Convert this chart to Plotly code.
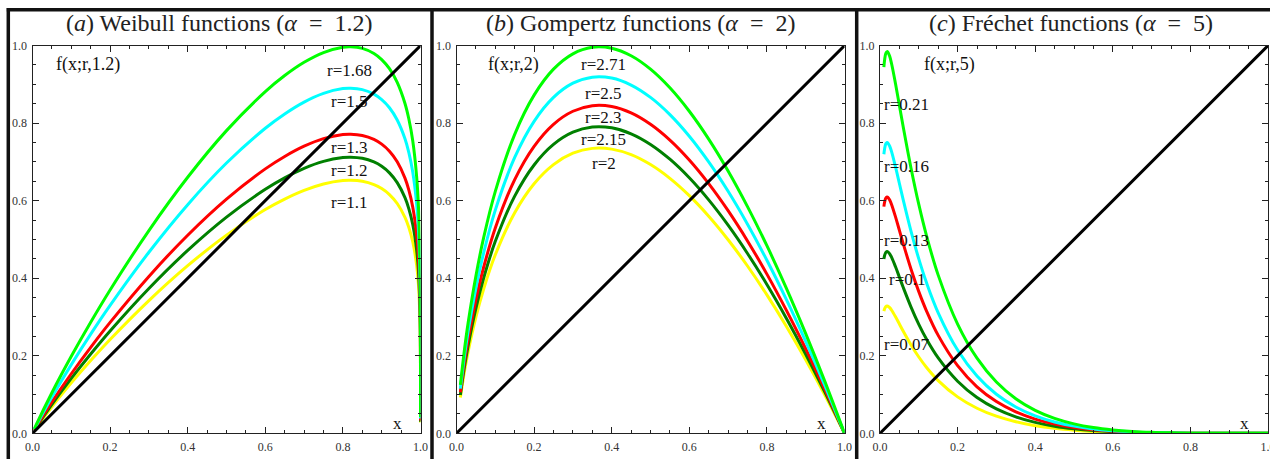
import plotly.graph_objects as go

# ---------------- data ----------------
# Panel (a): Weibull functions, alpha = 1.2
xa = [0.005, 0.01, 0.05, 0.1, 0.15, 0.2, 0.3, 0.4, 0.5, 0.6, 0.65, 0.7, 0.75, 0.8, 0.82,
      0.85, 0.88, 0.9, 0.92, 0.94, 0.96, 0.97, 0.98, 0.99, 0.995, 0.999, 0.9999, 0.99999, 1.0]
ya_r110 = [0.0077, 0.0149, 0.0685, 0.1300, 0.1876, 0.2420, 0.3424, 0.4324, 0.5112, 0.5771, 0.6041,
           0.6266, 0.6431, 0.6520, 0.6527, 0.6501, 0.6415, 0.6312, 0.6158, 0.5927, 0.5570, 0.5308,
           0.4940, 0.4340, 0.3795, 0.2761, 0.1744, 0.1100, 0.028]
ya_r120 = [0.0084, 0.0163, 0.0747, 0.1418, 0.2046, 0.2640, 0.3736, 0.4717, 0.5576, 0.6295, 0.6590,
           0.6835, 0.7015, 0.7112, 0.7121, 0.7092, 0.6998, 0.6886, 0.6718, 0.6466, 0.6077, 0.5790,
           0.5389, 0.4734, 0.4140, 0.3012, 0.1902, 0.1200, 0.030]
ya_r130 = [0.0091, 0.0176, 0.0809, 0.1536, 0.2217, 0.2860, 0.4047, 0.5110, 0.6041, 0.6820, 0.7140,
           0.7405, 0.7600, 0.7705, 0.7714, 0.7683, 0.7582, 0.7459, 0.7277, 0.7004, 0.6583, 0.6273,
           0.5838, 0.5129, 0.4485, 0.3263, 0.2061, 0.1300, 0.033]
ya_r150 = [0.0105, 0.0204, 0.0934, 0.1772, 0.2558, 0.3300, 0.4670, 0.5897, 0.6971, 0.7869, 0.8238,
           0.8544, 0.8769, 0.8891, 0.8901, 0.8865, 0.8748, 0.8607, 0.8397, 0.8082, 0.7596, 0.7238,
           0.6737, 0.5918, 0.5175, 0.3765, 0.2378, 0.1500, 0.038]
ya_r168 = [0.0117, 0.0228, 0.1046, 0.1985, 0.2864, 0.3696, 0.5230, 0.6604, 0.7807, 0.8813, 0.9227,
           0.9569, 0.9821, 0.9957, 0.9969, 0.9929, 0.9798, 0.9640, 0.9405, 0.9052, 0.8508, 0.8106,
           0.7545, 0.6628, 0.5796, 0.4217, 0.2663, 0.1680, 0.042]
labels_a = ["r=1.1", "r=1.2", "r=1.3", "r=1.5", "r=1.68"]
label_y_a = [0.595, 0.677, 0.736, 0.855, 0.937]

# Panel (b): Gompertz functions, alpha = 2
xb = [0.01, 0.02, 0.03, 0.05, 0.07, 0.1, 0.15, 0.2, 0.25, 0.3, 0.35, 0.4, 0.45, 0.5, 0.55,
      0.6, 0.65, 0.7, 0.75, 0.8, 0.85, 0.9, 0.95, 1.0]
yb_r200 = [0.0921, 0.1565, 0.2104, 0.2996, 0.3723, 0.4605, 0.5691, 0.6438, 0.6931, 0.7224, 0.7349,
           0.7330, 0.7187, 0.6931, 0.6576, 0.6130, 0.5600, 0.4993, 0.4315, 0.3570, 0.2763, 0.1896,
           0.0975, 0.0]
yb_r215 = [0.0990, 0.1682, 0.2262, 0.3220, 0.4003, 0.4951, 0.6118, 0.6921, 0.7451, 0.7766, 0.7900,
           0.7880, 0.7726, 0.7451, 0.7069, 0.6590, 0.6020, 0.5368, 0.4639, 0.3838, 0.2970, 0.2039,
           0.1048, 0.0]
yb_r230 = [0.1059, 0.1800, 0.2420, 0.3445, 0.4283, 0.5296, 0.6545, 0.7403, 0.7971, 0.8307, 0.8451,
           0.8430, 0.8265, 0.7971, 0.7563, 0.7050, 0.6440, 0.5742, 0.4962, 0.4106, 0.3177, 0.2181,
           0.1121, 0.0]
yb_r250 = [0.1151, 0.1956, 0.2630, 0.3745, 0.4655, 0.5757, 0.7114, 0.8047, 0.8664, 0.9030, 0.9186,
           0.9163, 0.8983, 0.8664, 0.8220, 0.7663, 0.7000, 0.6242, 0.5394, 0.4463, 0.3454, 0.2371,
           0.1218, 0.0]
yb_r271 = [0.1248, 0.2120, 0.2851, 0.4059, 0.5046, 0.6240, 0.7712, 0.8723, 0.9392, 0.9788, 0.9958,
           0.9933, 0.9738, 0.9392, 0.8911, 0.8306, 0.7588, 0.6766, 0.5847, 0.4838, 0.3744, 0.2570,
           0.1321, 0.0]
labels_b = ["r=2", "r=2.15", "r=2.3", "r=2.5", "r=2.71"]
label_y_b = [0.696, 0.758, 0.815, 0.877, 0.950]

# Panel (c): Frechet functions, alpha = 5
xc = [0.01, 0.012, 0.015, 0.0183, 0.02, 0.025, 0.03, 0.04, 0.05, 0.06, 0.08, 0.1, 0.12, 0.15,
      0.2, 0.25, 0.3, 0.35, 0.4, 0.45, 0.5, 0.55, 0.6, 0.65, 0.7, 0.75, 0.8, 0.9, 1.0]
yc_r007 = [0.3149, 0.3214, 0.3266, 0.3282, 0.3279, 0.3241, 0.3175, 0.3006, 0.2819, 0.2631, 0.2279,
           0.1968, 0.1698, 0.1360, 0.0939, 0.0646, 0.0441, 0.0298, 0.0197, 0.0128, 0.0081, 0.0049,
           0.0029, 0.0016, 0.0008, 0.0004, 0.0001, 0.0, 0.0]
yc_r010 = [0.4498, 0.4591, 0.4666, 0.4688, 0.4684, 0.4630, 0.4536, 0.4294, 0.4027, 0.3759, 0.3256,
           0.2811, 0.2425, 0.1943, 0.1342, 0.0923, 0.0630, 0.0425, 0.0282, 0.0183, 0.0116, 0.0070,
           0.0041, 0.0022, 0.0011, 0.0005, 0.0002, 0.0, 0.0]
yc_r013 = [0.5847, 0.5968, 0.6066, 0.6094, 0.6089, 0.6019, 0.5897, 0.5582, 0.5235, 0.4887, 0.4233,
           0.3654, 0.3153, 0.2526, 0.1745, 0.1200, 0.0819, 0.0553, 0.0367, 0.0238, 0.0150, 0.0091,
           0.0053, 0.0029, 0.0015, 0.0007, 0.0003, 0.0, 0.0]
yc_r016 = [0.7197, 0.7346, 0.7466, 0.7501, 0.7494, 0.7408, 0.7258, 0.6870, 0.6443, 0.6014, 0.5210,
           0.4498, 0.3880, 0.3109, 0.2147, 0.1477, 0.1008, 0.0680, 0.0451, 0.0293, 0.0185, 0.0112,
           0.0065, 0.0036, 0.0018, 0.0008, 0.0003, 0.0, 0.0]
yc_r021 = [0.9446, 0.9641, 0.9799, 0.9845, 0.9836, 0.9723, 0.9526, 0.9017, 0.8457, 0.7894, 0.6838,
           0.5903, 0.5093, 0.4080, 0.2818, 0.1938, 0.1323, 0.0893, 0.0592, 0.0384, 0.0243, 0.0147,
           0.0086, 0.0047, 0.0024, 0.0011, 0.0004, 0.0, 0.0]
labels_c = ["r=0.07", "r=0.1", "r=0.13", "r=0.16", "r=0.21"]
label_y_c = [0.230, 0.397, 0.498, 0.688, 0.847]
label_x_c = [0.004, 0.017, 0.004, 0.004, 0.004]

diag = [0.0, 1.0]

titles = ["(<i>a</i>) Weibull functions (<i>α</i>\u2002=\u20021.2)",
          "(<i>b</i>) Gompertz functions (<i>α</i>\u2002=\u20022)",
          "(<i>c</i>) Fréchet functions (<i>α</i>\u2002=\u20025)"]
flabels = ["f(x;r,1.2)", "f(x;r,2)", "f(x;r,5)"]
tickvals = [0.0, 0.2, 0.4, 0.6, 0.8, 1.0]
ticktext = ["0.0", "0.2", "0.4", "0.6", "0.8", "1.0"]

colors = ["#ffff00", "#008000", "#ff0000", "#00ffff", "#00ff00"]

# ---------------- figure ----------------
W, H = 1270, 459
fig = go.Figure()

panels = [
    (xa, [ya_r110, ya_r120, ya_r130, ya_r150, ya_r168]),
    (xb, [yb_r200, yb_r215, yb_r230, yb_r250, yb_r271]),
    (xc, [yc_r007, yc_r010, yc_r013, yc_r016, yc_r021]),
]

# pixel geometry of plotting areas
px_left = [32.5, 456.5, 880.0]
px_w = 388.0
py_top, py_bot = 45.6, 433.3

font_serif = "Liberation Serif, Times New Roman, serif"

for i, (xs, ys_list) in enumerate(panels):
    sfx = "" if i == 0 else str(i + 1)
    for ys, col in zip(ys_list, colors):
        fig.add_trace(go.Scatter(x=xs, y=ys, mode="lines",
                                 line=dict(color=col, width=3, shape="spline", smoothing=1.0),
                                 xaxis="x" + sfx, yaxis="y" + sfx, showlegend=False,
                                 hoverinfo="skip"))
    fig.add_trace(go.Scatter(x=diag, y=diag, mode="lines",
                             line=dict(color="black", width=3),
                             xaxis="x" + sfx, yaxis="y" + sfx, showlegend=False,
                             hoverinfo="skip"))

    dom_x = [px_left[i] / W, (px_left[i] + px_w) / W]
    dom_y = [(H - py_bot) / H, (H - py_top) / H]
    common = dict(range=[0, 1], showgrid=False, zeroline=False, showline=True,
                  linecolor="#222", linewidth=1, mirror="ticks", ticks="inside",
                  ticklen=6, tickwidth=1, tickcolor="#222",
                  tickvals=tickvals, ticktext=ticktext, automargin=False,
                  ticklabeloverflow="allow",
                  tickfont=dict(family=font_serif, size=12, color="#333"),
                  minor=dict(tickmode="array",
                             tickvals=[0.05, 0.1, 0.15, 0.25, 0.3, 0.35, 0.45, 0.5, 0.55,
                                       0.65, 0.7, 0.75, 0.85, 0.9, 0.95],
                             ticks="inside", ticklen=3, tickcolor="#222", tickwidth=1),
                  fixedrange=True)
    fig.update_layout(**{
        "xaxis" + sfx: dict(domain=dom_x, anchor="y" + sfx, ticklabelstandoff=2, **common),
        "yaxis" + sfx: dict(domain=dom_y, anchor="x" + sfx, ticklabelstandoff=2, **common),
    })

annotations = []
title_cx = [219, 640.5, 1071]
for i in range(3):
    sfx = "" if i == 0 else str(i + 1)
    annotations.append(dict(x=title_cx[i] / W, y=1 - 23.5 / H, xref="paper", yref="paper",
                            text=titles[i], showarrow=False, xanchor="center", yanchor="middle",
                            font=dict(family=font_serif, size=24, color="#222")))
    annotations.append(dict(x=0.94, y=0.025, xref="x" + sfx, yref="y" + sfx, text="x",
                            showarrow=False, xanchor="center", yanchor="middle",
                            font=dict(family=font_serif, size=17, color="#111")))

fl_x = [0.143, 0.146, 0.178]
for i in range(3):
    sfx = "" if i == 0 else str(i + 1)
    annotations.append(dict(x=fl_x[i], y=0.95, xref="x" + sfx, yref="y" + sfx, text=flabels[i],
                            showarrow=False, xanchor="center", yanchor="middle",
                            font=dict(family=font_serif, size=18, color="#111")))

for lab, ly in zip(labels_a, label_y_a):
    annotations.append(dict(x=0.817, y=ly, xref="x", yref="y", text=lab, showarrow=False,
                            xanchor="center", yanchor="middle",
                            font=dict(family=font_serif, size=17, color="#111")))
for lab, ly in zip(labels_b, label_y_b):
    annotations.append(dict(x=0.379, y=ly, xref="x2", yref="y2", text=lab, showarrow=False,
                            xanchor="center", yanchor="middle",
                            font=dict(family=font_serif, size=17, color="#111")))
for lab, ly, lx in zip(labels_c, label_y_c, label_x_c):
    annotations.append(dict(x=lx, y=ly, xref="x3", yref="y3", text=lab, showarrow=False,
                            xanchor="left", yanchor="middle",
                            font=dict(family=font_serif, size=17, color="#111")))

# panel frames (thick black borders)
top_y = 1 - 9.7 / H
shapes = [dict(type="line", xref="paper", yref="paper", x0=6.8 / W, x1=1.0, y0=top_y, y1=top_y,
               line=dict(color="#111", width=3.5))]
for xv in [8.3, 432.0, 856.7]:
    shapes.append(dict(type="line", xref="paper", yref="paper", x0=xv / W, x1=xv / W,
                       y0=-0.01, y1=top_y + 1.7 / H, line=dict(color="#111", width=3.5)))

fig.update_layout(width=W, height=H, margin=dict(l=0, r=0, t=0, b=0, autoexpand=False),
                  paper_bgcolor="white", plot_bgcolor="white",
                  annotations=annotations, shapes=shapes, showlegend=False)

fig.write_html("out.html")
